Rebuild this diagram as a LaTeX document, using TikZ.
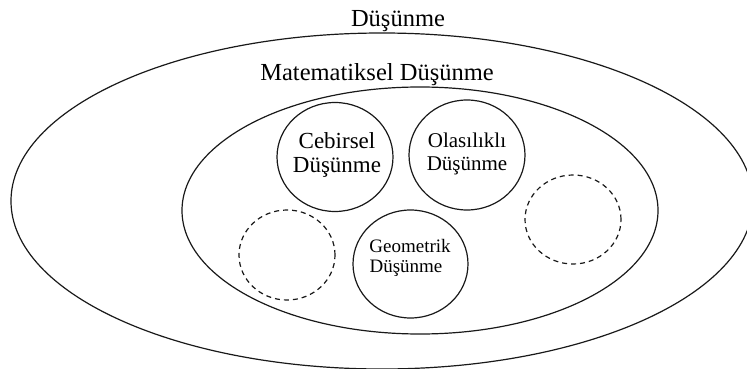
\documentclass[tikz,border=0pt]{standalone}
\usepackage{fontspec}
\setmainfont{Liberation Serif}
\usetikzlibrary{shapes.geometric}
\begin{document}
\begin{tikzpicture}[x=1pt,y=-1pt,
  ring/.style={draw=black!90,line width=1.2pt,ellipse,inner sep=0pt},
  dashring/.style={ring,dash pattern=on 5pt off 4pt},
  lbl/.style={anchor=base,inner sep=0pt}]
\useasboundingbox (0,0) rectangle (747,369);
% outer and inner ellipses
\node[ring,minimum width=742pt,minimum height=336pt] (outer) at (382,201) {};
\node[ring,minimum width=476pt,minimum height=247pt] (inner) at (420,210.5) {};
% titles
\node[lbl,font=\fontsize{24.5}{26}\selectfont] (t1) at (398,27) {Düşünme};
\node[lbl,font=\fontsize{24.5}{26}\selectfont] (t2) at (377,81) {Matematiksel Düşünme};
% sub-circles
\node[ring,minimum width=116pt,minimum height=109pt] (ceb) at (335,157) {};
\node[ring,minimum width=116pt,minimum height=110pt] (ola) at (467,155) {};
\node[ring,minimum width=115pt,minimum height=108pt] (geo) at (410.5,264) {};
\node[dashring,minimum width=96pt,minimum height=90pt] (d1) at (287,255) {};
\node[dashring,minimum width=96pt,minimum height=89pt] (d2) at (573,219.5) {};
% texts
\node[lbl,font=\fontsize{23}{24}\selectfont] (ceb1) at (337,148) {Cebirsel};
\node[lbl,font=\fontsize{23}{24}\selectfont] (ceb2) at (337,172) {Düşünme};
\node[lbl,font=\fontsize{21}{23}\selectfont] (ola1) at (467,147) {Olasılıklı};
\node[lbl,font=\fontsize{21}{23}\selectfont] (ola2) at (467,170) {Düşünme};
\node[lbl,font=\fontsize{19}{20}\selectfont] (geo1) at (410,252) {Geometrik};
\node[lbl,font=\fontsize{19}{20}\selectfont] (geo2) at (406,272) {Düşünme};
\end{tikzpicture}
\end{document}
